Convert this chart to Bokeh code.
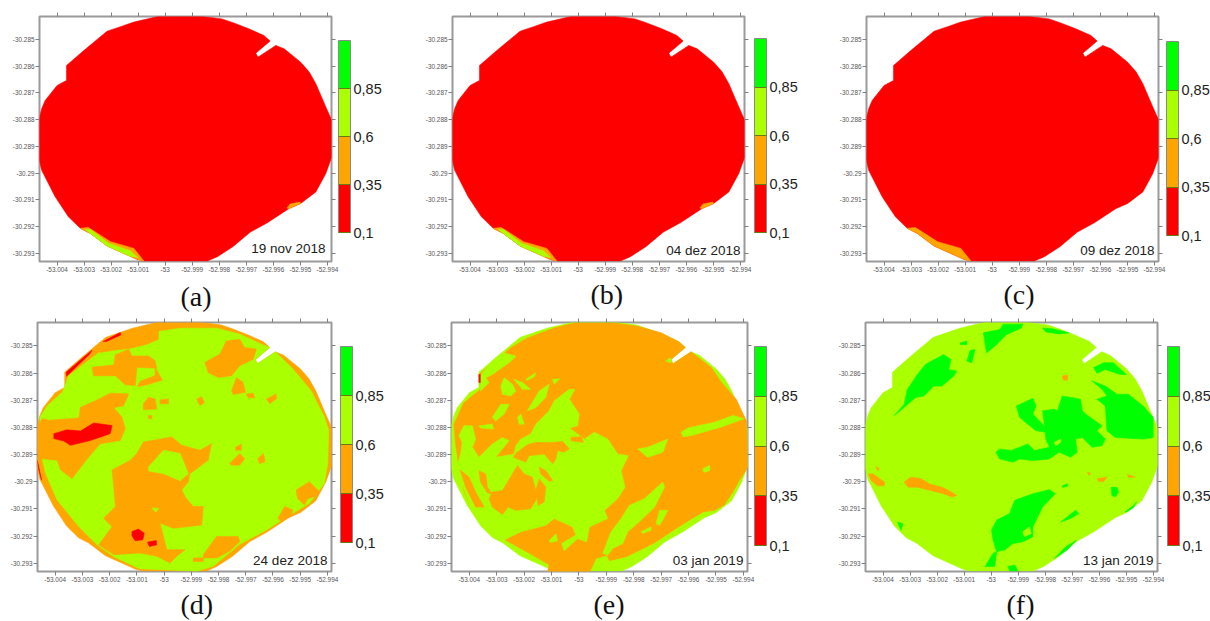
from bokeh.plotting import figure
from bokeh.layouts import column, row
from bokeh.models import ColorBar, LinearColorMapper, FixedTicker, LinearAxis, Label, ColumnDataSource, Title
from bokeh.embed import file_html
from bokeh.resources import INLINE

# ---------- data: vertices in thousandths of a degree, east of -53.000 and south of -30.285 ----------
LON_TICKS = [-53.004, -53.003, -53.002, -53.001, -53.0, -52.999, -52.998, -52.997, -52.996, -52.995, -52.994]
LAT_TICKS = [-30.285, -30.286, -30.287, -30.288, -30.289, -30.29, -30.291, -30.292, -30.293]
LEVELS = [0.1, 0.35, 0.6, 0.85]
LEVEL_LABELS = ["0,1", "0,35", "0,6", "0,85"]
DATES = ["19 nov 2018", "04 dez 2018", "09 dez 2018", "24 dez 2018", "03 jan 2019", "13 jan 2019"]
LETTERS = ["(a)", "(b)", "(c)", "(d)", "(e)", "(f)"]
PALETTE = ["#FF0000", "#FFA500", "#AAFF00", "#00FF00"]
R, O, Y, G = 0, 1, 2, 3

FIELD = [(-0.23,-0.87),(0.6,-0.87),(1.3,-0.87),(2.10,-0.77),(2.53,-0.62),(3.09,-0.40),(3.65,-0.15),(3.88,0.06),(3.35,0.51),(3.43,0.66),(4.09,0.22),(4.40,0.35),(5.01,0.85),(5.32,1.21),(5.57,1.65),(5.94,2.52),(6.16,3.02),(6.16,4.39),(5.94,5.01),(5.57,5.70),(5.01,6.13),(4.58,6.32),(3.78,6.85),(3.15,7.2),(2.5,7.75),(1.93,8.12),(1.56,8.28),(-0.79,8.28),(-1.04,8.22),(-2.15,7.72),(-2.77,7.25),(-3.14,7.06),(-3.58,6.63),(-4.07,5.88),(-4.57,4.89),(-4.67,4.45),(-4.67,3.02),(-4.57,2.59),(-4.44,2.28),(-4.0,1.72),(-3.65,1.53),(-3.65,0.97),(-3.01,0.41),(-2.15,-0.31),(-1.65,-0.48),(-1.16,-0.65)]

EDGE_ORANGE = [(-3.14,7.06),(-2.84,7.03),(-2.02,7.56),(-1.16,7.81),(-0.79,8.28),(-1.04,8.22),(-2.15,7.72),(-2.77,7.25)]
EDGE_LIME = [(-2.95,7.1),(-2.77,7.1),(-2.1,7.62),(-1.3,7.9),(-1.02,8.15),(-1.3,8.1),(-2.15,7.72),(-2.77,7.25)]
EDGE_SPOT = [(4.50,6.30),(4.62,6.15),(4.98,6.08),(5.01,6.13),(4.58,6.32)]

PANEL_A = [(R,FIELD),(O,EDGE_ORANGE),(Y,EDGE_LIME),(O,EDGE_SPOT)]
PANEL_B = [(R,FIELD),(O,EDGE_ORANGE),(Y,EDGE_LIME),(O,EDGE_SPOT)]
PANEL_C = [(R,FIELD),(O,EDGE_ORANGE)]

PANEL_D = [
 (O,FIELD),
 (Y,[(.59,-.65),(1.93,-.65),(2.78,-.43),(3.57,-.06),(3.88,.06),(3.35,.51),(3.43,.66),(4.09,.22),(4.73,.85),(5.40,1.65),(5.89,2.62),(6.05,3.11),(6.01,4.33),(5.89,5.06),(5.34,5.79),(4.73,6.16),(3.76,6.77),(2.78,7.3),(1.80,8.11),(1.20,8.29),(-.9,8.2),(-1.85,7.75),(-2.46,7.32),(-3.13,6.65),(-3.93,5.67),(-4.35,4.70),(-4.48,4.15),(-4.56,2.62),(-4.29,2.20),(-3.74,1.71),(-3.5,1.10),(-2.95,.67),(-2.22,.12),(-1.12,-.40),(-.27,-.52)]),
 (O,[(-1.12,-.45),(-.21,-.57),(-.21,-.24),(-.63,-.06),(-1.24,.09),(-1.85,.16),(-2.34,.24),(-2.40,.12)]),
 (O,[(-2.65,.79),(-1.85,.70),(-1.79,.33),(-1.30,.12),(-1.18,.37),(-.57,.37),(-.33,.55),(-.27,.82),(-1.0,.79),(-1.06,1.46),(-1.43,1.43),(-1.79,1.10),(-2.59,1.10)]),
 (O,[(-.33,.79),(-.06,1.26),(-.63,1.43),(-.98,1.5),(-.88,1.30),(-.33,1.10)]),
 (O,[(-4.63,2.99),(-4.48,2.68),(-4.23,2.74),(-3.13,2.65),(-3.07,2.26),(-2.46,1.99),(-1.98,1.74),(-1.30,1.77),(-1.49,2.20),(-1.85,2.28),(-1.55,2.62),(-1.43,3.05),(-1.61,3.48),(-2.34,3.60),(-2.77,4.09),(-3.38,4.88),(-3.80,4.57),(-3.93,4.21),(-4.48,4.15),(-4.63,3.96)]),
 (O,[(-1.91,4.57),(-1.24,4.21),(-1.0,3.96),(-.76,3.54),(.28,3.35),(.65,3.66),(1.32,3.84),(1.74,3.60),(1.62,4.21),(.95,4.70),(.89,5.0),(.65,5.30),(.77,5.55),(1.07,5.91),(1.44,5.91),(1.38,6.59),(.34,6.71),(-.15,6.52),(.10,7.5),(.77,7.5),(.46,7.74),(.22,7.99),(-.27,7.74),(-.88,7.62),(-1.85,7.68),(-2.40,7.32),(-1.91,6.65),(-2.22,6.34),(-1.79,5.91),(-1.85,5.18)]),
 (O,[(1.5,.61),(2.05,.30),(2.29,-.18),(2.78,-.24),(2.96,.06),(3.39,.12),(3.27,.49),(2.78,.73),(2.48,1.10),(1.99,1.16),(1.62,.98)]),
 (O,[(2.48,1.65),(2.66,1.16),(2.90,1.34),(2.99,1.71),(2.54,1.79)]),
 (O,[(3.76,1.95),(4.12,1.77),(4.12,1.95),(3.88,2.13)]),
 (O,[(3.02,1.77),(3.27,1.74),(3.33,1.91),(3.09,1.91)]),
 (O,[(1.20,1.95),(1.38,1.87),(1.48,2.09),(1.32,2.20)]),
 (O,[(-.15,1.99),(.16,1.95),(.16,2.13),(-.15,2.13)]),
 (O,[(-.76,2.13),(-.57,1.89),(-.33,1.95),(-.27,2.32),(-.76,2.35)]),
 (O,[(-.57,2.56),(-.45,2.56),(-.45,2.68),(-.57,2.68)]),
 (O,[(2.41,4.33),(2.78,3.96),(2.96,4.15),(2.78,4.39),(2.48,4.39)]),
 (O,[(2.63,3.72),(2.84,3.62),(2.84,3.84),(2.63,3.84)]),
 (O,[(3.44,4.15),(3.65,3.96),(3.71,4.26),(3.51,4.33)]),
 (O,[(4.85,5.30),(5.34,5.0),(5.71,5.37),(5.52,5.55),(5.28,5.61),(5.16,5.85),(4.90,5.61)]),
 (O,[(4.18,6.34),(4.43,5.91),(4.73,6.04),(4.67,6.22),(4.30,6.46)]),
 (O,[(1.44,7.68),(1.93,7.01),(2.72,7.01),(2.78,7.2),(2.41,7.55),(1.93,7.80),(1.44,7.80)]),
 (O,[(1.07,7.80),(1.44,7.80),(1.44,7.93),(1.07,7.93)]),
 (Y,[(-.57,4.45),(-.02,3.84),(.59,3.96),(.89,4.70),(.59,4.96),(-.02,4.70),(-.57,4.60)]),
 (Y,[(-.45,5.97),(-.2,5.97),(-.3,6.12)]),
 (R,[(-4.05,3.23),(-3.56,3.09),(-3.07,3.13),(-2.59,2.84),(-1.91,2.93),(-1.98,3.23),(-2.71,3.48),(-3.44,3.66),(-3.68,3.50),(-4.05,3.41)]),
 (R,[(-1.18,6.83),(-.94,6.74),(-.73,6.89),(-.78,7.13),(-1.06,7.17),(-1.18,6.99)]),
 (R,[(-.61,7.22),(-.29,7.16),(-.27,7.32),(-.54,7.38)]),
 (R,[(-2.24,-.16),(-1.61,-.49),(-1.59,-.40),(-2.12,-.16)]),
 (R,[(-3.60,.97),(-2.65,.16),(-2.73,.30),(-3.58,1.12)]),
 (R,[(-4.66,4.21),(-4.5,4.94),(-4.6,4.57)]),
]

PANEL_E = [
 (Y,FIELD),
 (O,[(-.17,-.84),(1.29,-.84),(2.15,-.72),(3.0,-.48),(3.65,-.15),(3.88,.06),(3.35,.51),(3.43,.66),(4.09,.22),(4.83,.80),(5.20,1.35),(5.74,1.96),(6.11,2.76),(6.17,4.46),(5.85,4.95),(5.6,5.4),(5.3,5.85),(4.95,6.05),(4.55,6.1),(4.2,6.3),(3.5,6.75),(2.75,7.25),(1.75,7.75),(1.11,7.90),(1.02,7.70),(.62,7.82),(.38,8.35),(-1.15,8.35),(-1.09,8.05),(-1.76,7.66),(-2.85,7.05),(-3.16,6.72),(-3.95,5.93),(-4.20,5.32),(-4.38,4.46),(-4.5,3.61),(-4.56,2.88),(-4.20,2.09),(-3.59,1.60),(-3.65,1.05),(-2.49,.07),(-1.88,-.29),(-.90,-.66)]),
 (Y,[(-4.44,4.40),(-4.32,3.98),(-4.26,3.55),(-4.38,3.30),(-4.20,2.94),(-3.89,2.94),(-3.77,3.43),(-3.89,3.73),(-3.65,4.10),(-3.16,3.61),(-2.79,3.37),(-2.55,3.49),(-3.04,4.10),(-2.37,3.98),(-2.30,3.67),(-2.12,3.43),(-1.76,3.24),(-1.57,2.88),(-1.09,2.39),(-.90,2.02),(-.35,1.60),(-.15,1.60),(-.35,1.96),(.01,2.51),(-.05,2.94),(-.35,3.02),(.20,3.43),(.56,3.18),(1.05,3.43),(1.41,3.98),(1.80,4.04),(1.54,4.59),(1.68,5.20),(1.41,5.62),(.93,6.05),(1.05,6.35),(.38,6.66),(.28,7.21),(-.05,7.09),(-.54,7.54),(-.63,7.27),(-.11,6.96),(-.23,6.66),(-.90,6.35),(-1.21,6.60),(-2.12,6.84),(-2.49,7.02),(-2.85,7.21),(-3.04,7.02),(-3.52,6.60),(-3.95,5.93),(-4.32,4.95)]),
 (O,[(-4.34,4.56),(-4.01,4.83),(-3.77,5.38),(-3.46,5.93),(-3.77,5.93),(-4.13,5.20)]),
 (O,[(-3.65,4.59),(-3.40,4.71),(-3.34,5.20),(-3.16,5.44),(-3.34,5.41),(-3.59,5.01)]),
 (O,[(-3.16,5.38),(-2.79,5.32),(-2.24,4.40),(-2.0,4.71),(-1.70,4.83),(-1.51,5.56),(-1.76,5.99),(-2.30,6.05),(-2.59,5.93),(-2.79,6.20),(-3.16,5.93),(-3.28,5.62)]),
 (O,[(-1.45,4.46),(-1.21,4.59),(-.96,4.95),(-1.09,4.98),(-1.39,4.71)]),
 (O,[(-1.45,4.89),(-1.21,5.20),(-1.27,5.74),(-1.49,5.87),(-1.57,5.32)]),
 (O,[(-1.57,3.55),(-.90,3.55),(-.60,3.51),(-.35,3.79),(-.54,3.91),(-.78,3.85),(-.84,4.16),(-.96,4.34),(-1.27,3.98),(-1.82,4.04),(-1.94,4.28),(-2.39,4.10),(-2.30,3.95),(-1.88,3.63)]),
 (O,[(-.29,3.37),(.10,3.34),(.16,3.55),(-.29,3.49)]),
 (Y,[(-1.09,7.17),(-.84,6.92),(-.78,7.17),(-1.03,7.23)]),
 (Y,[(-2.85,1.48),(-2.73,1.17),(-2.43,1.41),(-2.30,1.66),(-2.49,1.84),(-2.79,1.78)]),
 (Y,[(-2.37,1.23),(-2.06,1.35),(-1.76,1.60),(-2.06,1.60)]),
 (Y,[(-1.94,1.23),(-1.57,.99),(-1.63,1.13),(-1.88,1.27)]),
 (Y,[(-.96,1.23),(-.70,1.21),(-.90,1.41)]),
 (Y,[(-1.88,2.39),(-1.45,1.66),(-1.09,1.41),(-1.21,1.90),(-1.57,2.27)]),
 (Y,[(-3.16,2.63),(-2.85,2.15),(-2.55,2.15),(-2.73,2.51),(-3.04,2.76)]),
 (Y,[(-2.24,2.63),(-2.12,2.51),(-2.0,2.88),(-2.18,2.88)]),
 (Y,[(-3.65,2.94),(-3.16,2.88),(-3.12,3.06),(-3.59,3.02)]),
 (Y,[(-3.16,.56),(-2.73,.26),(-2.30,.38),(-2.55,.62),(-3.16,1.05),(-3.40,1.17),(-3.28,1.35),(-3.59,1.66),(-3.61,1.11)]),
 (Y,[(.87,7.63),(1.17,6.84),(1.54,6.35),(1.84,5.87),(2.39,5.62),(3.06,5.01),(3.12,5.20),(2.76,5.93),(2.27,6.41),(1.78,6.84),(1.60,7.27),(1.23,7.45),(1.05,7.70)]),
 (Y,[(2.82,6.54),(2.94,6.05),(3.24,6.05),(3.06,6.41),(2.94,6.60)]),
 (Y,[(2.27,6.84),(2.63,6.66),(2.63,6.78),(2.33,6.90)]),
 (Y,[(2.15,3.79),(2.51,3.73),(3.24,3.43),(3.06,3.91),(2.51,4.10)]),
 (Y,[(3.73,3.18),(3.98,3.02),(4.95,2.81),(5.62,2.56),(6.02,2.68),(5.20,2.98),(4.10,3.30),(3.80,3.34)]),
 (Y,[(4.52,4.52),(4.77,4.40),(4.77,4.59),(4.56,4.65)]),
 (Y,[(3.16,.56),(3.34,.44),(3.37,.62)]),
 (R,[(-3.65,1.05),(-3.60,1.05),(-3.60,1.35),(-3.65,1.35)]),
]

PANEL_F = [
 (Y,FIELD),
 (G,[(-3.59,2.57),(-3.22,2.15),(-3.10,1.60),(-2.73,1.05),(-2.43,.68),(-1.76,.32),(-1.49,.50),(-1.57,.87),(-1.27,.93),(-1.39,1.11),(-1.82,1.48),(-2.12,1.48),(-2.49,1.84),(-2.79,1.90),(-3.16,2.21)]),
 (G,[(-.29,-.48),(.32,-.60),(.44,-.80),(1.17,-.80),(1.11,-.66),(.56,-.41),(.20,-.05),(-.17,.26)]),
 (G,[(-.90,.56),(-.78,.17),(-.60,.13),(-.72,.62)]),
 (G,[(-1.15,-.11),(-.90,-.17),(-.90,-.05),(-1.15,-.05)]),
 (G,[(1.90,-.66),(2.27,-.63),(2.88,-.48),(2.51,-.44),(2.02,-.51)]),
 (G,[(3.79,.80),(4.16,.62),(4.51,.62),(5.0,1.05),(4.76,1.05),(4.22,.87),(3.91,1.01)]),
 (G,[(3.73,1.29),(4.22,1.48),(4.65,1.78),(5.07,1.78),(5.62,2.21),(5.99,2.63),(5.99,3.37),(5.62,3.43),(4.59,3.37),(4.28,3.12),(4.22,2.21),(3.91,1.96),(4.28,1.84),(4.10,1.60)]),
 (G,[(.17,3.91),(.32,3.79),(.74,3.85),(1.35,3.61),(1.60,3.85),(2.15,3.73),(2.02,3.43),(1.96,2.88),(1.90,2.39),(2.33,2.33),(2.45,2.39),(2.63,1.84),(3.30,1.96),(3.37,2.39),(3.49,2.51),(3.85,2.76),(4.10,2.94),(3.91,3.12),(4.22,3.43),(4.10,3.67),(3.73,3.73),(3.37,3.37),(3.12,3.43),(3.18,3.91),(2.94,4.10),(2.51,3.91),(2.15,4.16),(1.54,4.22),(1.05,4.16),(.80,4.28),(.32,4.16)]),
 (G,[(1.05,2.63),(.93,2.21),(1.54,1.93),(1.66,2.21),(1.54,2.51),(1.90,2.88),(2.02,3.18),(1.66,3.12),(1.35,2.88)]),
 (Y,[(2.33,3.55),(2.57,3.43),(2.57,3.55),(2.39,3.67)]),
 (G,[(.01,6.78),(.20,6.41),(.68,6.17),(.87,5.68),(1.54,5.44),(2.15,5.29),(2.37,5.44),(1.90,5.93),(1.54,6.66),(1.54,7.02),(1.17,7.21),(.80,7.27),(.50,7.51),(.20,7.57),(.07,7.15)]),
 (Y,[(1.17,6.84),(1.41,6.66),(1.48,6.90),(1.23,7.02)]),
 (Y,[(.80,7.45),(1.05,7.33),(1.02,7.45),(.83,7.45)]),
 (G,[(-.23,8.12),(.07,7.63),(.20,7.57),(.13,8.12)]),
 (G,[(.62,8.12),(.87,8.06),(.99,8.28),(.68,8.28)]),
 (G,[(2.57,6.48),(3.12,6.05),(3.24,6.17),(2.94,6.35)]),
 (G,[(2.33,7.82),(2.76,7.39),(3.15,7.15),(2.82,7.5),(2.45,7.75)]),
 (G,[(4.44,5.20),(4.65,5.20),(4.71,5.38),(4.59,5.56),(4.46,5.50)]),
 (G,[(4.95,6.11),(5.26,5.87),(5.38,5.74),(5.26,5.95),(5.02,6.1)]),
 (G,[(-3.46,6.48),(-3.27,6.54),(-3.33,6.78),(-3.39,6.66)]),
 (G,[(2.63,5.15),(2.82,5.07),(2.82,5.17),(2.63,5.20)]),
 (O,[(-3.22,5.01),(-2.98,4.83),(-2.61,4.88),(-2.24,5.10),(-1.82,5.20),(-1.57,5.32),(-1.27,5.50),(-1.45,5.56),(-1.76,5.44),(-2.24,5.32),(-2.73,5.20),(-3.07,5.20)]),
 (O,[(-4.54,4.71),(-4.37,4.71),(-3.95,5.01),(-3.95,5.15),(-4.20,5.15),(-4.44,4.95)]),
 (O,[(2.63,1.11),(2.82,1.07),(2.82,1.26),(2.67,1.26)]),
 (O,[(3.55,4.65),(3.67,4.68),(3.63,4.77)]),
 (O,[(3.91,4.89),(4.28,4.83),(4.16,4.99),(3.98,4.99)]),
 (O,[(-4.26,4.44),(-4.13,4.52),(-4.20,4.59)]),
 (O,[(5.04,4.73),(5.32,4.83),(5.07,4.83)]),
]

PANELS = [PANEL_A, PANEL_B, PANEL_C, PANEL_D, PANEL_E, PANEL_F]

# ---------- layout: (width, height, left, top, right, bottom, bar dx, bar dy, bar height, title offset, title standoff) ----------
LAYOUT = [
 (418,316,39,16,87,55,299,29,192,141,8),
 (417,316,34,14,91,52,302,29,194,138,5),
 (375,316,31,15,52,52,300,26,194,137,5),
 (418,305,37,6,87,49,303,29,196,143,4),
 (417,305,33,5,88,49,303,26,199,142,4),
 (375,305,28,5,53,49,302,26,199,141,4),
]
X_RANGE = (-53.00465, -52.99385)
Y_RANGE = (-30.2933, -30.28414)
DATE_LON = [-52.99407, -52.9940, -52.9940, -52.9940, -52.9940, -52.9940]
DATE_LAT = [-30.2928, -30.2929, -30.2929, -30.2929, -30.2929, -30.2929]
SANS = "Liberation Sans"


def lon(v):
    return -53.0 + v / 1000.0


def lat(v):
    return -30.285 - v / 1000.0


def panel(i):
    w, h, bl, bt, br, bb, dx, dy, bh, toff, tstand = LAYOUT[i]
    p = figure(width=w, height=h, x_range=X_RANGE, y_range=Y_RANGE, output_backend="svg",
               toolbar_location=None, x_axis_location=None, y_axis_location=None,
               min_border_left=bl, min_border_top=bt, min_border_right=br, min_border_bottom=bb,
               outline_line_color="#9a9a9a", outline_line_width=2, background_fill_color="white")
    p.grid.visible = False

    xs = [[lon(a) for a, _ in poly] for _, poly in PANELS[i]]
    ys = [[lat(b) for _, b in poly] for _, poly in PANELS[i]]
    cols = [PALETTE[c] for c, _ in PANELS[i]]
    p.patches("xs", "ys", source=ColumnDataSource(dict(xs=xs, ys=ys, c=cols)),
              fill_color="c", line_color="c", line_width=0.6)

    xlab = {t: ("-53" if t == -53.0 else f"{t:.3f}") for t in LON_TICKS}
    ylab = {t: ("-30.29" if t == -30.29 else f"{t:.3f}") for t in LAT_TICKS}
    for side, ticks, labels in [("below", LON_TICKS, xlab), ("left", LAT_TICKS, ylab),
                                ("above", LON_TICKS, None), ("right", LAT_TICKS, None)]:
        ax = LinearAxis(ticker=FixedTicker(ticks=ticks), axis_line_color=None,
                        major_tick_line_color="#808080", major_tick_in=0, major_tick_out=4,
                        minor_tick_line_color=None, major_label_standoff=1,
                        major_label_text_font=SANS, major_label_text_font_size="6.4px",
                        major_label_text_color="#555555")
        ax.major_label_overrides = labels if labels else {t: "" for t in ticks}
        p.add_layout(ax, side)

    p.add_layout(Title(text=LETTERS[i], align="left", offset=toff, standoff=tstand,
                       text_font="Liberation Serif", text_font_size="28px", text_font_style="normal",
                       text_color="#111111"), "below")

    mapper = LinearColorMapper(palette=PALETTE, low=0.1, high=1.1)
    cb = ColorBar(color_mapper=mapper, ticker=FixedTicker(ticks=LEVELS),
                  major_label_overrides=dict(zip(LEVELS, LEVEL_LABELS)),
                  width=12, height=bh, location=(dx, dy), padding=0, margin=0,
                  major_tick_line_color="#6b7a10", major_tick_in=12, major_tick_out=0,
                  minor_tick_line_color=None, bar_line_color="#8a8a8a", bar_line_width=1,
                  label_standoff=3, major_label_text_font=SANS, major_label_text_font_size="14.5px",
                  major_label_text_color="#222222", background_fill_color=None, border_line_color=None)
    p.add_layout(cb)

    p.add_layout(Label(x=DATE_LON[i], y=DATE_LAT[i], text=DATES[i], text_align="right", text_baseline="middle",
                       text_font=SANS, text_font_size="13.5px", text_color="#222222"))
    return p


figs = [panel(i) for i in range(6)]
page = column(row(figs[0], figs[1], figs[2], spacing=0), row(figs[3], figs[4], figs[5], spacing=0), spacing=0)
open("out.html", "w").write(file_html(page, INLINE))
